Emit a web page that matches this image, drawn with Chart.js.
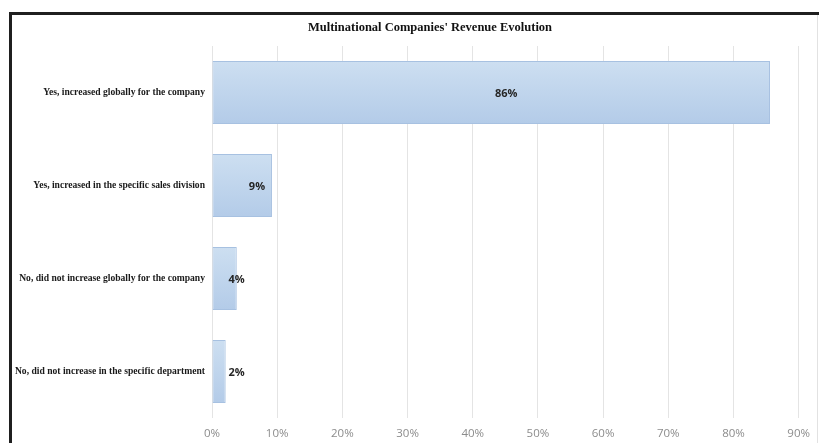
<!DOCTYPE html>
<html>
<head>
<meta charset="utf-8">
<script src="https://cdn.jsdelivr.net/npm/chart.js@4.4.1/dist/chart.umd.min.js"></script>
<style>
  html, body { margin: 0; padding: 0; background: #fff; }
  #wrap { position: relative; width: 819px; height: 443px; }
</style>
</head>
<body>
<div id="wrap"><canvas id="revenueChart" width="819" height="443"></canvas></div>
<script>
const chartTitle = "Multinational Companies' Revenue Evolution";
const categories = [
  "Yes, increased globally for the company",
  "Yes, increased in the specific sales division",
  "No, did not increase globally for the company",
  "No, did not increase in the specific department"
];
const revenueShare = [85.6, 9.2, 3.8, 2.1];
const shareLabels = ["86%", "9%", "4%", "2%"];
const xTicks = [0, 10, 20, 30, 40, 50, 60, 70, 80, 90];

// frame lines + title
const framePlugin = {
  id: 'frame',
  afterDraw(chart) {
    const ctx = chart.ctx;
    ctx.save();
    ctx.fillStyle = '#1f1f1f';
    ctx.fillRect(9, 12, 810, 3);
    ctx.fillRect(9, 12, 3, 431);
    ctx.fillStyle = '#e2e2e2';
    ctx.fillRect(817, 15, 1, 428);
    ctx.fillStyle = '#111';
    ctx.font = 'bold 12.5px "Liberation Serif", "Times New Roman", serif';
    ctx.textAlign = 'center';
    ctx.textBaseline = 'middle';
    ctx.fillText(chartTitle, 430, 28);
    ctx.restore();
  }
};

const barLabels = {
  id: 'barLabels',
  afterDatasetsDraw(chart) {
    const ctx = chart.ctx;
    const meta = chart.getDatasetMeta(0);
    ctx.save();
    ctx.font = 'bold 11px "Open Sans", sans-serif';
    ctx.fillStyle = '#262626';
    ctx.textAlign = 'center';
    ctx.textBaseline = 'middle';
    meta.data.forEach(function(bar, i) {
      let x;
      if (bar.x - bar.base > 80) {
        x = (bar.x + bar.base) / 2 + 15;
      } else {
        x = Math.max(bar.x - 15, bar.base + 24);
      }
      ctx.fillText(shareLabels[i], x, bar.y + 1);
    });
    ctx.restore();
  }
};

function barFill(context) {
  const chart = context.chart;
  const y = chart.scales && chart.scales.y;
  if (!y || y.top === undefined) return '#c2d6ec';
  const cy = y.getPixelForValue(context.dataIndex);
  const half = 32;
  const g = chart.ctx.createLinearGradient(0, cy - half, 0, cy + half);
  g.addColorStop(0, '#cddff1');
  g.addColorStop(1, '#b3cbe8');
  return g;
}

new Chart(document.getElementById('revenueChart'), {
  type: 'bar',
  data: {
    labels: categories,
    datasets: [{
      data: revenueShare,
      backgroundColor: barFill,
      borderColor: '#a7c1e1',
      borderWidth: 1,
      borderSkipped: false,
      barPercentage: 0.68,
      categoryPercentage: 1
    }]
  },
  options: {
    indexAxis: 'y',
    responsive: false,
    animation: false,
    layout: { padding: { left: 12, right: 14, top: 46, bottom: 0 } },
    plugins: {
      legend: { display: false },
      title: { display: false },
      tooltip: { enabled: false }
    },
    scales: {
      x: {
        min: 0,
        max: 90,
        afterBuildTicks(axis) { axis.ticks = xTicks.map(v => ({ value: v })); },
        afterFit(axis) { axis.height = 25; },
        grid: { color: '#e4e4e4', drawTicks: false },
        border: { display: false },
        ticks: {
          padding: 9,
          color: '#8c8c8c',
          font: { family: '"Open Sans", sans-serif', size: 11.5 },
          callback: v => v + '%'
        }
      },
      y: {
        afterFit(axis) { axis.width = 200; },
        grid: { display: false, drawTicks: false },
        border: { display: false },
        ticks: {
          padding: 7,
          color: '#1a1a1a',
          font: { family: '"Liberation Serif", "Times New Roman", serif', size: 9.6, weight: 'bold' }
        }
      }
    }
  },
  plugins: [framePlugin, barLabels]
});
</script>
</body>
</html>
